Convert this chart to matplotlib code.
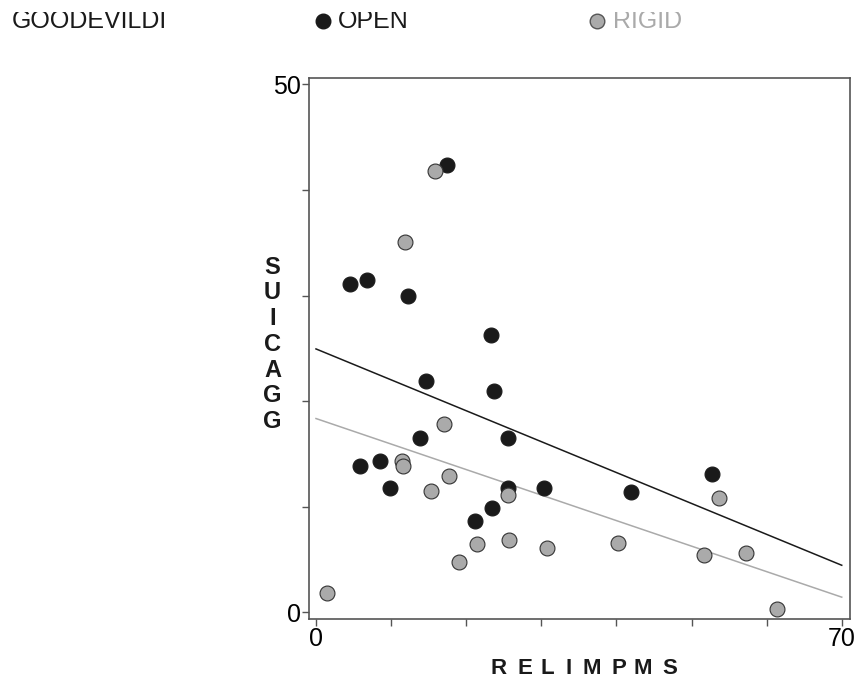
import matplotlib
matplotlib.use('Agg')
import matplotlib.pyplot as plt
import numpy as np
from matplotlib.transforms import Bbox

plt.rcParams['font.family'] = ['Liberation Sans', 'DejaVu Sans']

# OPEN group (black)
open_x = [17.4, 4.5, 6.8, 12.3, 23.3, 14.6, 23.7, 13.9, 25.6, 5.9, 8.5, 9.9, 25.6, 30.3, 23.5, 21.2, 41.9, 52.7]
open_y = [42.4, 31.1, 31.5, 30.0, 26.3, 21.9, 21.0, 16.5, 16.5, 13.9, 14.3, 11.8, 11.8, 11.8, 9.9, 8.7, 11.4, 13.1]

# RIGID group (grey)
rigid_x = [15.8, 11.9, 17.0, 11.5, 11.6, 17.7, 15.3, 25.6, 21.4, 25.7, 30.8, 19.1, 1.4, 40.2, 53.7, 51.6, 57.3, 61.4]
rigid_y = [41.8, 35.1, 17.8, 14.3, 13.9, 12.9, 11.5, 11.1, 6.5, 6.9, 6.1, 4.8, 1.8, 6.6, 10.8, 5.4, 5.6, 0.3]

# fitted lines: intercept, slope
open_fit = (24.95, -0.2926)
rigid_fit = (18.36, -0.2416)

groups = ['OPEN', 'RIGID']
colors = {'OPEN': '#1a1a1a', 'RIGID': '#aaaaaa'}

W, H = 857, 682
fig = plt.figure(figsize=(W / 100, H / 100), dpi=100)
ax = fig.add_axes([309 / W, 1 - 619 / H, (850 - 309) / W, (619 - 78) / H])

xs = np.array([0, 70])
ax.plot(xs, open_fit[0] + open_fit[1] * xs, color='#1a1a1a', lw=1.1, zorder=2)
ax.plot(xs, rigid_fit[0] + rigid_fit[1] * xs, color='#aaaaaa', lw=1.1, zorder=2)

ax.scatter(open_x, open_y, s=115, c=colors['OPEN'], edgecolors='#1a1a1a', linewidths=0.8, zorder=3)
ax.scatter(rigid_x, rigid_y, s=115, c=colors['RIGID'], edgecolors='#333333', linewidths=0.8, zorder=4)

ax.set_xlim(-0.93, 71.1)
ax.set_ylim(-0.62, 50.6)
ax.set_xticks(range(0, 71, 10))
ax.set_xticklabels(['0', '', '', '', '', '', '', '70'])
ax.set_yticks(range(0, 51, 10))
ax.set_yticklabels(['0', '', '', '', '', '50'])
ax.tick_params(direction='out', length=5, width=1, color='#555555', labelsize=18, pad=1)
for sp in ax.spines.values():
    sp.set_color('#555555')
    sp.set_linewidth(1.2)

# axis titles, one letter at a time
xlab_pos = [499, 525, 547, 569, 592, 619, 643, 670]
for px, ch in zip(xlab_pos, 'RELIMPMS'):
    fig.text(px / W, 1 - 669 / H, ch, ha='center', va='center',
             fontsize=16, fontweight='bold', color='#1a1a1a')
for i, ch in enumerate('SUICAGG'):
    fig.text(272.5 / W, 1 - (267 + i * 25.8) / H, ch, ha='center', va='center',
             fontsize=17, fontweight='bold', color='#1a1a1a')

# header row, clipped along the top
clip = Bbox.from_extents(0, 0, W, H - 12)
hdr = [
    fig.text(12 / W, 1 - 27.5 / H, 'GOODEVILDI', ha='left', va='baseline', fontsize=18, color='#1a1a1a'),
    fig.text(338 / W, 1 - 27.5 / H, 'OPEN', ha='left', va='baseline', fontsize=18, color='#1a1a1a'),
    fig.text(613 / W, 1 - 27.5 / H, 'RIGID', ha='left', va='baseline', fontsize=18, color='#aaaaaa'),
]
for t in hdr:
    t.set_clip_box(clip)
    t.set_clip_on(True)
fig.lines.append(plt.Line2D([322.5 / W], [1 - 20.5 / H], transform=fig.transFigure, marker='o',
                            ms=10.5, mfc='#1a1a1a', mec='#1a1a1a', ls='none'))
fig.lines.append(plt.Line2D([596.5 / W], [1 - 20.5 / H], transform=fig.transFigure, marker='o',
                            ms=10.5, mfc='#aaaaaa', mec='#555555', ls='none'))

fig.savefig('out.png', dpi=100)
